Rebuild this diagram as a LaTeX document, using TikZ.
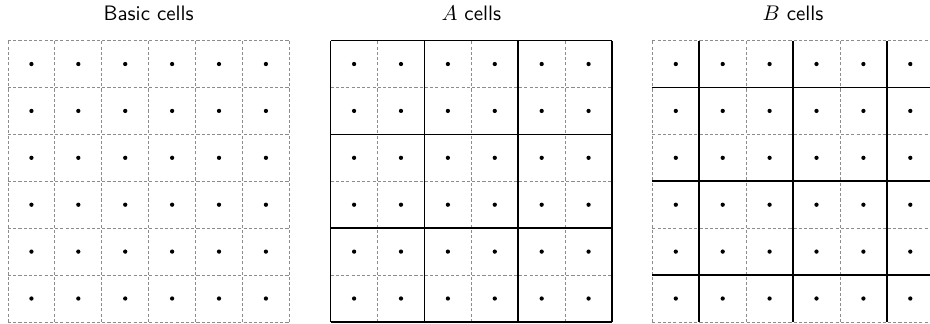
\documentclass[tikz,border=0pt]{standalone}
\usepackage{tikz}
\usetikzlibrary{positioning}

\begin{document}
\begin{tikzpicture}[x=0.85cm, y=0.85cm, font=\sffamily\fontsize{10.8}{13}\selectfont,
    cella/.style={gray!90, line width=0.4pt, dash pattern=on 1.6pt off 1.1pt},
    bordo/.style={black, line width=0.8pt},
    punto/.style={fill=black}]
    \useasboundingbox (-0.17,-0.043) rectangle (19.66,6.865);

    % Celle di base
    \begin{scope}
        \foreach \k in {0,...,6} {
            \draw[cella] (\k,0) -- (\k,6);
            \draw[cella] (0,\k) -- (6,\k);
        }
        \foreach \i in {0,...,5} \foreach \j in {0,...,5}
            \fill[punto] (\i+0.5,\j+0.5) circle (1.1pt);
        \node[anchor=base] (titoloBase) at (3,6.43) {Basic cells};
    \end{scope}

    % Celle A (blocchi 2x2)
    \begin{scope}[shift={(6.88,0)}]
        \foreach \k in {1,3,5} {
            \draw[cella] (\k,0) -- (\k,6);
            \draw[cella] (0,\k) -- (6,\k);
        }
        \foreach \k in {0,2,4,6} {
            \draw[bordo] (\k,0) -- (\k,6);
            \draw[bordo] (0,\k) -- (6,\k);
        }
        \foreach \i in {0,...,5} \foreach \j in {0,...,5}
            \fill[punto] (\i+0.5,\j+0.5) circle (1.1pt);
        \node[anchor=base] (titoloA) at (3,6.43) {$A$ cells};
    \end{scope}

    % Celle B (blocchi sfalsati di una cella)
    \begin{scope}[shift={(13.74,0)}]
        \foreach \k in {0,2,4,6} {
            \draw[cella] (\k,0) -- (\k,6);
            \draw[cella] (0,\k) -- (6,\k);
        }
        \foreach \k in {1,3,5} {
            \draw[bordo] (\k,0) -- (\k,6);
            \draw[bordo] (0,\k) -- (6,\k);
        }
        \foreach \i in {0,...,5} \foreach \j in {0,...,5}
            \fill[punto] (\i+0.5,\j+0.5) circle (1.1pt);
        \node[anchor=base] (titoloB) at (3,6.43) {$B$ cells};
    \end{scope}
\end{tikzpicture}
\end{document}
